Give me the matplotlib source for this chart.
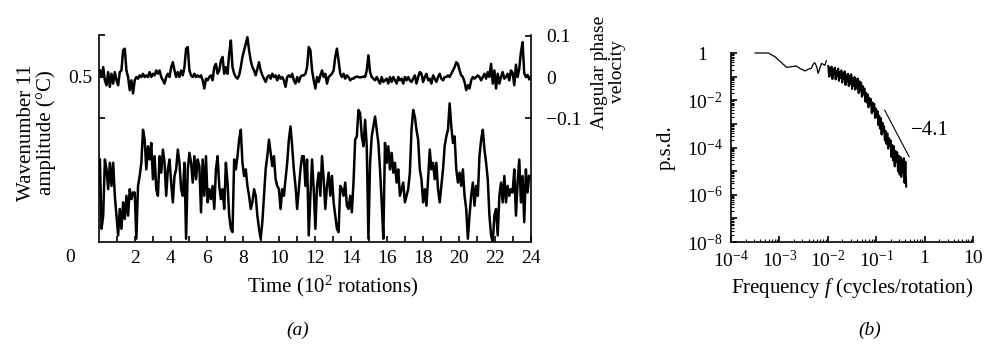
import numpy as np
import matplotlib.pyplot as plt
from matplotlib.ticker import LogLocator, NullFormatter

plt.rcParams['font.family'] = ['Liberation Serif', 'DejaVu Serif']
plt.rcParams['mathtext.fontset'] = 'custom'
plt.rcParams['mathtext.rm'] = 'Liberation Serif'
plt.rcParams['mathtext.it'] = 'Liberation Serif:italic'

# (a) wavenumber 11 amplitude (deg C)
amplitude = [
    0.25, 0.04, 0.08, 0.25, 0.22, 0.16, 0.24, 0.17, 0.24, 0.14,
    0.08, 0.02, 0.10, 0.04, 0.12, 0.07, 0.14, 0.08, 0.16, 0.13,
    0.15, 0.15, 0.01, 0.17, 0.20, 0.24, 0.34, 0.31, 0.22, 0.29,
    0.25, 0.30, 0.19, 0.26, 0.16, 0.14, 0.26, 0.21, 0.28, 0.24,
    0.14, 0.22, 0.25, 0.18, 0.12, 0.20, 0.22, 0.28, 0.24, 0.16,
    0.14, 0.24, 0.01, 0.22, 0.27, 0.24, 0.18, 0.26, 0.19, 0.25,
    # 5.5 - 11.3
    0.23, 0.09, 0.25, 0.14, 0.26, 0.12, 0.16, 0.13, 0.17, 0.10,
    0.22, 0.26, 0.17, 0.13, 0.16, 0.10, 0.24, 0.18, 0.08, 0.04,
    0.03, 0.25, 0.22, 0.26, 0.31, 0.34, 0.24, 0.20, 0.22, 0.17,
    0.14, 0.10, 0.12, 0.16, 0.14, 0.08, 0.04, 0.01, 0.06, 0.14,
    0.22, 0.26, 0.31, 0.27, 0.23, 0.26, 0.19, 0.17, 0.16, 0.10,
    0.16, 0.14, 0.19, 0.24, 0.31, 0.35, 0.29, 0.22, 0.17, 0.10,
    0.16, 0.22, 0.26,
    # 11.3 - 17.1
    0.26, 0.17, 0.25, 0.02, 0.14, 0.25, 0.16, 0.04, 0.17, 0.21,
    0.14, 0.26, 0.19, 0.10, 0.17, 0.21, 0.14, 0.20, 0.12, 0.08,
    0.04, 0.03, 0.17, 0.16, 0.14, 0.18, 0.11, 0.10, 0.14, 0.09,
    0.18, 0.31, 0.32, 0.40, 0.39, 0.32, 0.29, 0.37, 0.29, 0.01,
    0.24, 0.32, 0.35, 0.38, 0.34, 0.30, 0.22, 0.12, 0.01, 0.30,
    0.24, 0.29, 0.22, 0.27, 0.21, 0.24, 0.18, 0.22, 0.14, 0.16,
    0.18, 0.12, 0.14,
    # 17.1 - 23.0
    0.16, 0.21, 0.34, 0.40, 0.38, 0.34, 0.31, 0.22, 0.19, 0.12,
    0.16, 0.11, 0.19, 0.28, 0.22, 0.24, 0.19, 0.24, 0.16, 0.12,
    0.17, 0.22, 0.29, 0.32, 0.34, 0.42, 0.35, 0.30, 0.32, 0.22,
    0.18, 0.21, 0.17, 0.22, 0.14, 0.10, 0.01, 0.08, 0.14, 0.18,
    0.11, 0.17, 0.14, 0.26, 0.31, 0.34, 0.28, 0.24, 0.19, 0.08,
    0.02, 0.00, 0.08, 0.10, 0.02, 0.14, 0.18, 0.12, 0.20, 0.12,
    0.17, 0.14, 0.16,
    # 23.0 - 23.9
    0.15, 0.22, 0.08, 0.18, 0.25, 0.12, 0.20, 0.06, 0.22, 0.15, 0.20,
]

# (a) angular phase velocity, same time samples
phase_velocity = [
    0.016, 0.000, 0.024, -0.008, -0.020, 0.012, -0.024, 0.008, -0.016, 0.012,
    -0.008, -0.020, 0.012, 0.016, 0.065, 0.069, 0.016, 0.000, -0.032, -0.008,
    -0.040, -0.008, 0.000, -0.004, 0.004, 0.000, 0.008, 0.000, 0.004, 0.000,
    0.012, 0.000, 0.008, 0.004, 0.016, 0.008, 0.016, 0.000, -0.008, -0.016,
    0.000, 0.008, 0.000, 0.024, 0.036, 0.016, 0.000, 0.012, 0.000, 0.016,
    0.004, 0.024, 0.069, 0.073, 0.016, 0.004, 0.000, 0.008, 0.000, 0.004,
    # 5.5 - 11.3
    0.000, 0.004, -0.008, -0.028, -0.004, -0.008, 0.000, 0.004, -0.008, 0.024,
    0.032, 0.008, 0.016, 0.040, 0.049, 0.008, 0.024, 0.008, 0.057, 0.089,
    0.024, 0.008, 0.000, -0.004, 0.004, 0.024, 0.049, 0.065, 0.081, 0.097,
    0.065, 0.040, 0.024, 0.016, 0.004, 0.020, 0.036, 0.016, 0.004, -0.004,
    -0.012, 0.000, 0.004, -0.004, 0.008, 0.000, 0.004, -0.008, 0.004, -0.004,
    0.000, -0.008, -0.024, 0.000, 0.004, 0.000, 0.008, -0.008, -0.016, 0.000,
    -0.012, 0.000, 0.004,
    # 11.3 - 17.1
    0.004, 0.008, 0.024, 0.073, 0.065, 0.016, -0.008, -0.028, 0.000, -0.012,
    0.004, 0.016, 0.000, 0.008, -0.016, 0.000, 0.004, 0.008, 0.016, 0.049,
    0.069, 0.040, 0.008, 0.000, 0.008, -0.004, 0.004, 0.000, -0.008, -0.004,
    -0.004, 0.000, 0.001, 0.000, -0.001, 0.000, 0.001, 0.000, 0.016, 0.053,
    0.012, 0.000, -0.004, -0.008, 0.000, -0.008, -0.016, 0.000, -0.012, -0.008,
    -0.004, -0.016, 0.000, -0.012, 0.000, -0.008, -0.016, 0.000, -0.008, -0.004,
    -0.016, 0.000, -0.008,
    # 17.1 - 23.0
    0.000, -0.008, -0.012, -0.004, 0.004, -0.016, 0.000, 0.012, 0.008, -0.012,
    0.000, 0.008, -0.008, -0.004, -0.016, 0.004, -0.004, -0.012, 0.000, 0.008,
    -0.004, -0.008, 0.000, 0.000, 0.004, 0.000, 0.008, 0.016, 0.024, 0.036,
    0.032, 0.016, 0.004, 0.000, -0.012, -0.032, -0.020, -0.028, -0.008, 0.000,
    -0.004, 0.000, 0.004, 0.000, -0.008, 0.000, 0.008, -0.004, 0.012, 0.000,
    0.032, -0.016, 0.016, -0.028, 0.008, -0.016, 0.000, 0.012, -0.004, 0.000,
    0.008, -0.008, 0.016,
    # 23.0 - 23.9
    0.010, -0.020, 0.030, 0.000, 0.020, 0.060, 0.085, 0.010, 0.000, 0.005, -0.005,
]
t_start, t_end = 0.05, 23.9

# (b) power spectrum: smooth low-frequency part (log10 f, log10 psd)
psd_low_logf = [-3.50, -3.23, -3.09, -2.85, -2.65, -2.58, -2.47, -2.41, -2.34,
                -2.30, -2.27, -2.23, -2.20, -2.13, -2.06, -2.03]
psd_low_logp = [0.00, 0.00, -0.16, -0.61, -0.55, -0.65, -0.76, -0.69, -0.65,
                -0.47, -0.41, -0.58, -0.86, -0.44, -0.52, -0.33]
# noisy part, log10 psd from f = 10^-1.99 to 10^-0.38
psd_band_logp = [
    -0.55, -1.00, -0.62, -0.95, -0.58, -1.10, -0.70, -0.90,
    -0.62, -1.12, -0.75, -0.98, -0.66, -1.18, -0.80, -1.05,
    -0.74, -1.25, -0.85, -1.10, -0.78, -1.35, -0.92, -1.20,
    -0.88, -1.40, -0.97, -1.30, -0.90, -1.52, -1.05, -1.38,
    -1.02, -1.55, -1.12, -1.45, -1.08, -1.70, -1.20, -1.60,
    -1.25, -1.85, -1.40, -1.75, -1.50, -2.05, -1.68, -2.10,
    -1.75, -2.30, -1.90, -2.20, -1.95, -2.55, -2.10, -2.45,
    -2.15, -2.75, -2.35, -2.70, -2.45, -3.05, -2.65, -3.20,
    -2.75, -3.45, -2.95, -3.35, -3.10, -3.70, -3.30, -3.85,
    -3.40, -4.05, -3.60, -3.95, -3.70, -4.40, -3.90, -4.55,
    -3.95, -4.80, -4.15, -4.60, -4.20, -5.00, -4.35, -5.15,
    -4.40, -5.25, -4.55, -5.05, -4.45, -5.50, -4.60, -5.65,
]
band_logf_range = (-1.99, -0.38)
slope_logf = [-0.825, -0.32]
slope_logp = [-2.42, -4.39]

W, H = 989, 345
fig = plt.figure(figsize=(W / 100, H / 100), dpi=100)


def fx(x):
    return x / W


def fy(y):
    return 1 - y / H


FS = 14    # tick labels
LFS = 15   # axis labels

# ---- panel (a)
ax = fig.add_axes([fx(99), fy(242), (531 - 99) / W, (242 - 35) / H])
ax2 = ax.twinx()
t = np.linspace(t_start, t_end, len(amplitude))
ax.plot(t, amplitude, color='black', lw=1.8)
ax2.plot(t, phase_velocity, color='black', lw=1.8)

ax.set_xlim(0, 24)
ax.set_ylim(0, 0.627)
ax2.set_ylim(-0.402, 0.1024)
for a in (ax, ax2):
    a.spines['top'].set_visible(False)
    for s in a.spines.values():
        s.set_linewidth(1.2)
ax.spines['right'].set_visible(False)
ax2.spines['left'].set_visible(False)
ax2.spines['bottom'].set_visible(False)

ax.set_xticks(range(2, 25, 2))
ax.set_xticks(range(1, 24, 2), minor=True)
ax.set_yticks([0.376, 0.5, 0.627], ['', '0.5', ''])
ax2.set_yticks([-0.1, 0, 0.1], ['\u22120.1', '0', '0.1'])
ax.tick_params(axis='x', which='both', direction='in', length=4, width=1.2,
               labelsize=FS, pad=6)
ax.tick_params(axis='y', direction='in', length=4, width=1.2, labelsize=FS, pad=5)
ax2.tick_params(axis='y', direction='in', length=4, width=1.2, labelsize=FS, pad=11)
fig.text(fx(70), fy(257), '0', fontsize=FS, ha='center', va='center')

fig.text(fx(27), fy(133), 'Wavenumber 11', rotation=90, fontsize=LFS,
         ha='center', va='center')
fig.text(fx(46), fy(133), 'amplitude (\u00b0C)', rotation=90, fontsize=LFS,
         ha='center', va='center')
fig.text(fx(599), fy(72), 'Angular phase', rotation=90, fontsize=FS,
         ha='center', va='center')
fig.text(fx(617), fy(72), 'velocity', rotation=90, fontsize=FS,
         ha='center', va='center')
fig.text(fx(333), fy(286), 'Time (10$^2$ rotations)', fontsize=LFS,
         ha='center', va='center')
fig.text(fx(298), fy(330), '(a)', fontsize=FS, style='italic',
         ha='center', va='center')

# ---- panel (b)
bx = fig.add_axes([fx(731), fy(242), (973 - 731) / W, (242 - 53) / H])
band_f = 10 ** np.linspace(band_logf_range[0], band_logf_range[1], len(psd_band_logp))
bx.plot(10 ** np.array(psd_low_logf), 10 ** np.array(psd_low_logp),
        color='black', lw=0.9, clip_on=False)
bx.plot(band_f, 10 ** np.array(psd_band_logp), color='black', lw=1.5)
bx.plot(10 ** np.array(slope_logf), 10 ** np.array(slope_logp), color='black', lw=0.8)
bx.text(10 ** -0.28, 10 ** -3.28, '\u22124.1', fontsize=LFS, ha='left', va='center')

bx.set_xscale('log')
bx.set_yscale('log')
bx.set_xlim(1e-4, 10)
bx.set_ylim(1e-8, 1)
bx.spines['top'].set_visible(False)
bx.spines['right'].set_visible(False)
for s in bx.spines.values():
    s.set_linewidth(1.2)
bx.set_xticks([1e-4, 1e-3, 1e-2, 1e-1, 1, 10],
              ['$10^{-4}$', '$10^{-3}$', '$10^{-2}$', '$10^{-1}$', '1', '10'])
bx.set_yticks([1e-8, 1e-7, 1e-6, 1e-5, 1e-4, 1e-3, 1e-2, 1e-1, 1],
              ['$10^{-8}$', '', '$10^{-6}$', '', '$10^{-4}$', '', '$10^{-2}$', '', '1   '])
bx.xaxis.set_minor_locator(LogLocator(base=10, subs=range(2, 10), numticks=20))
bx.yaxis.set_minor_locator(LogLocator(base=10, subs=range(2, 10), numticks=20))
bx.xaxis.set_minor_formatter(NullFormatter())
bx.yaxis.set_minor_formatter(NullFormatter())
bx.tick_params(which='major', direction='in', length=4, width=1.2, labelsize=FS, pad=6)
bx.tick_params(which='minor', direction='in', length=2.5, width=0.8)

fig.text(fx(666), fy(148), 'p.s.d.', rotation=90, fontsize=LFS,
         ha='center', va='center')
fig.text(fx(852), fy(288), 'Frequency $f$ (cycles/rotation)', fontsize=LFS,
         ha='center', va='center')
fig.text(fx(870), fy(330), '(b)', fontsize=FS, style='italic',
         ha='center', va='center')

fig.savefig('out.png', dpi=100)
